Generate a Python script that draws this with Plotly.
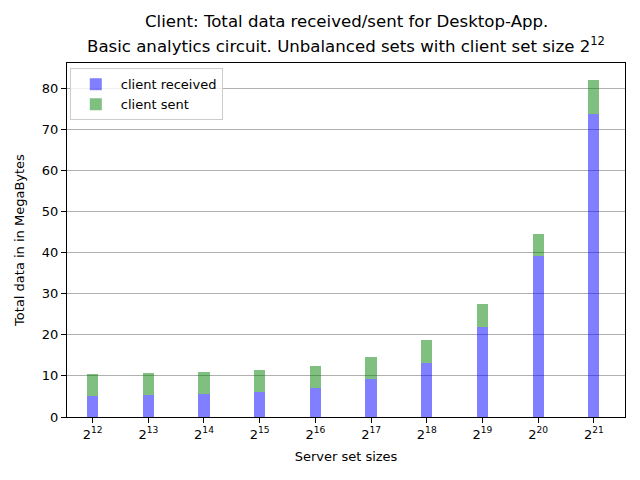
import plotly.graph_objects as go

exponents = [12, 13, 14, 15, 16, 17, 18, 19, 20, 21]
tick_labels = [f"2<sup>{e}</sup>" for e in exponents]
client_received = [5.18, 5.43, 5.67, 6.16, 7.14, 9.3, 13.1, 21.9, 39.2, 73.8]
client_sent = [5.28, 5.27, 5.28, 5.24, 5.36, 5.4, 5.7, 5.6, 5.3, 8.3]
title_line1 = "Client: Total data received/sent for Desktop-App."
title_line2 = "Basic analytics circuit. Unbalanced sets with client set size 2<sup>12</sup>"

positions = list(range(len(exponents)))

fig = go.Figure()
fig.add_trace(go.Bar(x=positions, y=client_received, width=0.2, name="client received",
                     marker=dict(color="rgba(0,0,255,0.5)", line=dict(width=0))))
fig.add_trace(go.Bar(x=positions, y=client_sent, width=0.2, name="client sent",
                     marker=dict(color="rgba(0,128,0,0.5)", line=dict(width=0))))

font = "DejaVu Sans"
fig.update_layout(
    barmode="stack",
    width=640, height=480,
    margin=dict(l=67, r=15, t=63, b=63, autoexpand=False),
    paper_bgcolor="white", plot_bgcolor="white",
    font=dict(family=font, size=13, color="black"),
    legend=dict(x=0.005, y=0.985, xanchor="left", yanchor="top", bgcolor="rgba(255,255,255,0.8)",
                bordercolor="#cccccc", borderwidth=1, font=dict(size=13), traceorder="normal",
                itemwidth=40),
    xaxis=dict(range=[-0.46, 9.56], tickvals=positions, ticktext=tick_labels, showgrid=False,
               ticks="outside", ticklen=5, tickcolor="black", showline=True, linecolor="black",
               mirror=True, zeroline=False, automargin=False,
               title=dict(text="Server set sizes", font=dict(size=13), standoff=11)),
    yaxis=dict(range=[0, 86.2], tickvals=[0, 10, 20, 30, 40, 50, 60, 70, 80], showgrid=True,
               gridcolor="#b0b0b0", gridwidth=1, ticks="outside", ticklen=5, tickcolor="black",
               showline=True, linecolor="black", mirror=True, zeroline=False, automargin=False,
               title=dict(text="Total data in in MegaBytes", font=dict(size=13), standoff=14)),
    annotations=[
        dict(text=title_line1, x=0.5, xref="paper", y=1, yref="paper", xanchor="center",
             yanchor="bottom", yshift=30, showarrow=False, font=dict(size=16.6, family=font)),
        dict(text=title_line2, x=0.5, xref="paper", y=1, yref="paper", xanchor="center",
             yanchor="bottom", yshift=5, showarrow=False, font=dict(size=16.6, family=font)),
    ],
)
fig.write_html("out.html", config={"displayModeBar": False},
               post_script="document.body.style.margin='0';")
